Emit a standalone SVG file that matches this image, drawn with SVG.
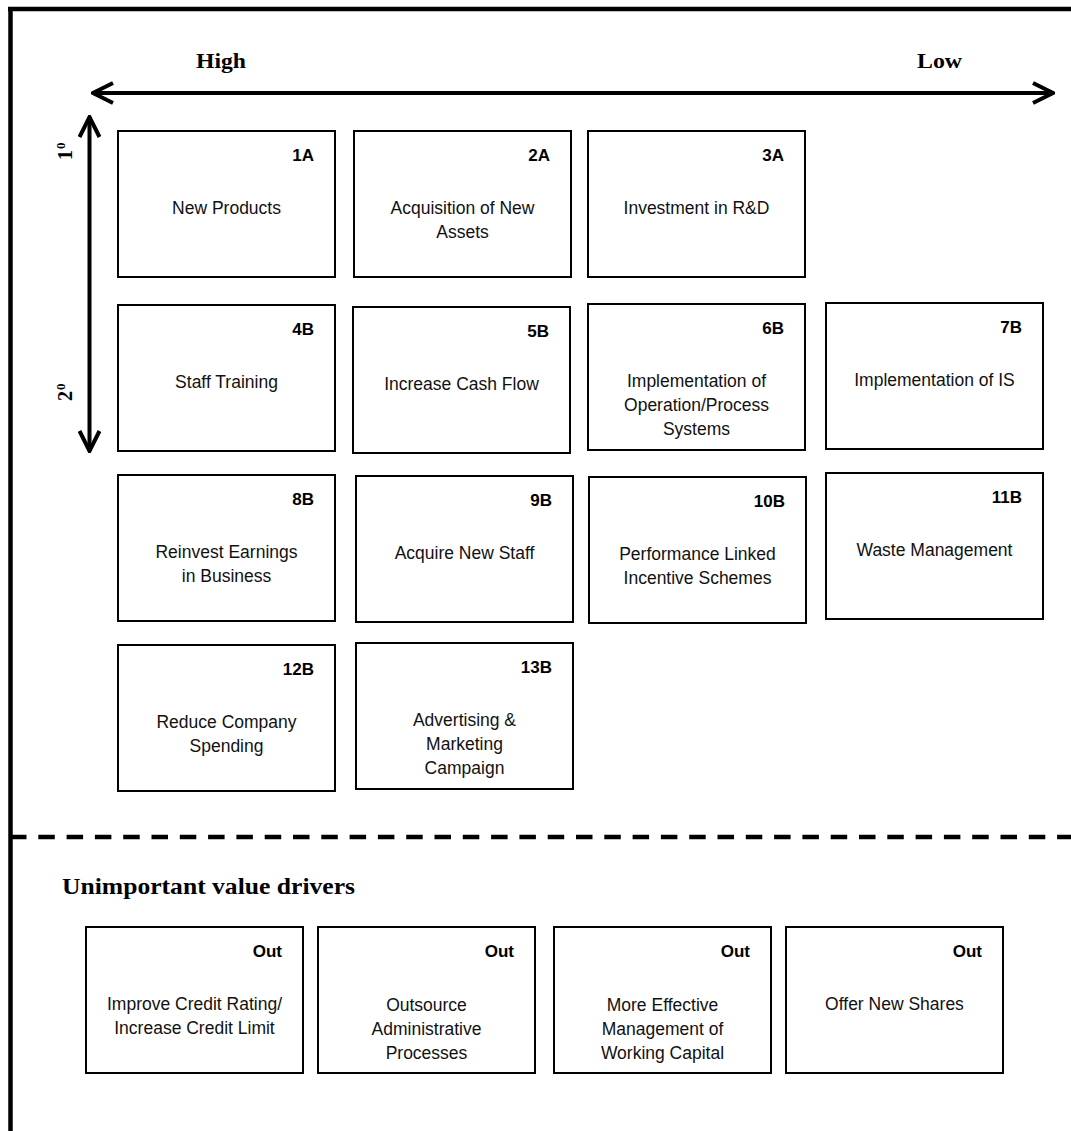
<svg xmlns="http://www.w3.org/2000/svg" width="1071" height="1131" viewBox="0 0 1071 1131">
  <style>
    .box { fill: #ffffff; stroke: #000000; stroke-width: 2; }
    .tag { font-family: "Liberation Sans", Arial, sans-serif; font-size: 17px; font-weight: bold; text-anchor: end; fill: #000; }
    .lbl { font-family: "Liberation Sans", Arial, sans-serif; font-size: 17.5px; text-anchor: middle; fill: #111; }
    .head { font-family: "Liberation Serif", "Times New Roman", serif; font-weight: bold; fill: #000; }
    .frame { stroke: #000; stroke-width: 4.5; fill: none; }
    .axis { stroke: #000; stroke-width: 4; fill: none; }
  </style>
  <defs>
    <marker id="chev" viewBox="-24 -12 26 24" refX="0" refY="0" markerWidth="26" markerHeight="24" markerUnits="userSpaceOnUse" orient="auto-start-reverse">
      <path d="M-20,-10 L0,0 L-20,10" fill="none" stroke="#000" stroke-width="4" stroke-linejoin="miter"/>
    </marker>
  </defs>

  <rect x="0" y="0" width="1071" height="1131" fill="#ffffff"/>

  <!-- outer frame and section divider -->
  <g id="frame">
    <line class="frame" x1="8" y1="9" x2="1071" y2="9"/>
    <line class="frame" x1="10.5" y1="7" x2="10.5" y2="1131"/>
    <line x1="10" y1="837" x2="1071" y2="837" stroke="#000" stroke-width="4.5" stroke-dasharray="16.5 11.8"/>
  </g>

  <!-- axis captions -->
  <g id="captions">
    <text class="head" x="196" y="68" font-size="22" textLength="50" lengthAdjust="spacingAndGlyphs">High</text>
    <text class="head" x="917" y="68" font-size="22" textLength="45" lengthAdjust="spacingAndGlyphs">Low</text>
    <text class="head" font-size="20" transform="translate(72,160) rotate(-90)">1<tspan font-size="13" dx="1" dy="-7">0</tspan></text>
    <text class="head" font-size="20" transform="translate(72,401) rotate(-90)">2<tspan font-size="13" dx="1" dy="-7">0</tspan></text>
    <text class="head" x="62" y="894" font-size="24" textLength="293" lengthAdjust="spacingAndGlyphs">Unimportant value drivers</text>
  </g>

  <!-- axes -->
  <g id="connectors">
    <line class="axis" x1="93" y1="93" x2="1053" y2="93" marker-start="url(#chev)" marker-end="url(#chev)"/>
    <line class="axis" x1="89.5" y1="117" x2="89.5" y2="451" marker-start="url(#chev)" marker-end="url(#chev)"/>
  </g>

  <!-- ranked value drivers -->
  <g id="n1A" transform="translate(118,131)">
    <rect class="box" width="217" height="146"/>
    <text class="tag" x="196" y="30">1A</text>
    <text class="lbl" x="108.5" y="83">New Products</text>
  </g>
  <g id="n2A" transform="translate(354,131)">
    <rect class="box" width="217" height="146"/>
    <text class="tag" x="196" y="30">2A</text>
    <text class="lbl" x="108.5" y="83">Acquisition of New</text>
    <text class="lbl" x="108.5" y="107">Assets</text>
  </g>
  <g id="n3A" transform="translate(588,131)">
    <rect class="box" width="217" height="146"/>
    <text class="tag" x="196" y="30">3A</text>
    <text class="lbl" x="108.5" y="83">Investment in R&amp;D</text>
  </g>

  <g id="n4B" transform="translate(118,305)">
    <rect class="box" width="217" height="146"/>
    <text class="tag" x="196" y="30">4B</text>
    <text class="lbl" x="108.5" y="83">Staff Training</text>
  </g>
  <g id="n5B" transform="translate(353,307)">
    <rect class="box" width="217" height="146"/>
    <text class="tag" x="196" y="30">5B</text>
    <text class="lbl" x="108.5" y="83">Increase Cash Flow</text>
  </g>
  <g id="n6B" transform="translate(588,304)">
    <rect class="box" width="217" height="146"/>
    <text class="tag" x="196" y="30">6B</text>
    <text class="lbl" x="108.5" y="83">Implementation of</text>
    <text class="lbl" x="108.5" y="107">Operation/Process</text>
    <text class="lbl" x="108.5" y="131">Systems</text>
  </g>
  <g id="n7B" transform="translate(826,303)">
    <rect class="box" width="217" height="146"/>
    <text class="tag" x="196" y="30">7B</text>
    <text class="lbl" x="108.5" y="83">Implementation of IS</text>
  </g>

  <g id="n8B" transform="translate(118,475)">
    <rect class="box" width="217" height="146"/>
    <text class="tag" x="196" y="30">8B</text>
    <text class="lbl" x="108.5" y="83">Reinvest Earnings</text>
    <text class="lbl" x="108.5" y="107">in Business</text>
  </g>
  <g id="n9B" transform="translate(356,476)">
    <rect class="box" width="217" height="146"/>
    <text class="tag" x="196" y="30">9B</text>
    <text class="lbl" x="108.5" y="83">Acquire New Staff</text>
  </g>
  <g id="n10B" transform="translate(589,477)">
    <rect class="box" width="217" height="146"/>
    <text class="tag" x="196" y="30">10B</text>
    <text class="lbl" x="108.5" y="83">Performance Linked</text>
    <text class="lbl" x="108.5" y="107">Incentive Schemes</text>
  </g>
  <g id="n11B" transform="translate(826,473)">
    <rect class="box" width="217" height="146"/>
    <text class="tag" x="196" y="30">11B</text>
    <text class="lbl" x="108.5" y="83">Waste Management</text>
  </g>

  <g id="n12B" transform="translate(118,645)">
    <rect class="box" width="217" height="146"/>
    <text class="tag" x="196" y="30">12B</text>
    <text class="lbl" x="108.5" y="83">Reduce Company</text>
    <text class="lbl" x="108.5" y="107">Spending</text>
  </g>
  <g id="n13B" transform="translate(356,643)">
    <rect class="box" width="217" height="146"/>
    <text class="tag" x="196" y="30">13B</text>
    <text class="lbl" x="108.5" y="83">Advertising &amp;</text>
    <text class="lbl" x="108.5" y="107">Marketing</text>
    <text class="lbl" x="108.5" y="131">Campaign</text>
  </g>

  <!-- unimportant value drivers -->
  <g id="out1" transform="translate(86,927)">
    <rect class="box" width="217" height="146"/>
    <text class="tag" x="196" y="30">Out</text>
    <text class="lbl" x="108.5" y="83">Improve Credit Rating/</text>
    <text class="lbl" x="108.5" y="107">Increase Credit Limit</text>
  </g>
  <g id="out2" transform="translate(318,927)">
    <rect class="box" width="217" height="146"/>
    <text class="tag" x="196" y="30">Out</text>
    <text class="lbl" x="108.5" y="84">Outsource</text>
    <text class="lbl" x="108.5" y="108">Administrative</text>
    <text class="lbl" x="108.5" y="132">Processes</text>
  </g>
  <g id="out3" transform="translate(554,927)">
    <rect class="box" width="217" height="146"/>
    <text class="tag" x="196" y="30">Out</text>
    <text class="lbl" x="108.5" y="84">More Effective</text>
    <text class="lbl" x="108.5" y="108">Management of</text>
    <text class="lbl" x="108.5" y="132">Working Capital</text>
  </g>
  <g id="out4" transform="translate(786,927)">
    <rect class="box" width="217" height="146"/>
    <text class="tag" x="196" y="30">Out</text>
    <text class="lbl" x="108.5" y="83">Offer New Shares</text>
  </g>
</svg>
